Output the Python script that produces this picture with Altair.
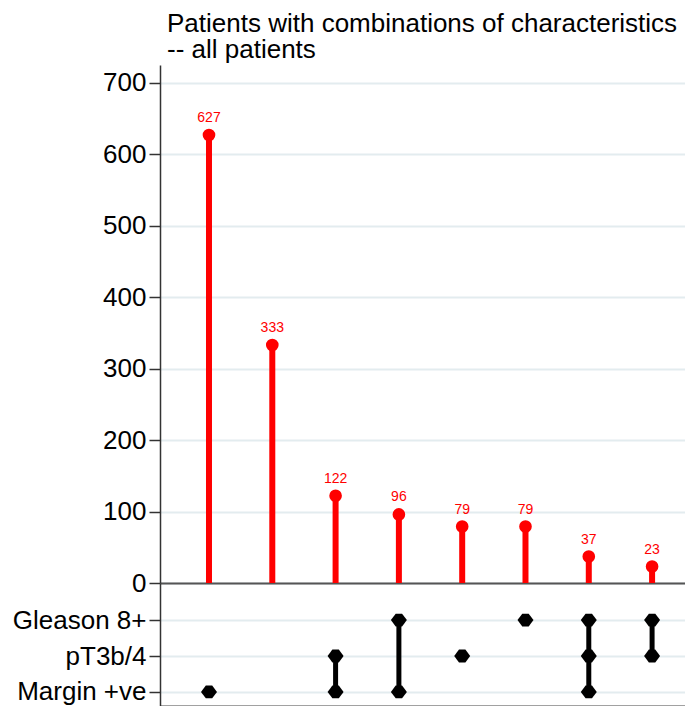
import altair as alt
import pandas as pd

# ---- data ----
counts = [627, 333, 122, 96, 79, 79, 37, 23]
characteristics = ["Margin +ve", "pT3b/4", "Gleason 8+"]          # row 1, 2, 3 (bottom -> top)
membership = [
    ["Margin +ve"],
    [],
    ["pT3b/4", "Margin +ve"],
    ["Gleason 8+", "Margin +ve"],
    ["pT3b/4"],
    ["Gleason 8+"],
    ["Gleason 8+", "pT3b/4", "Margin +ve"],
    ["Gleason 8+", "pT3b/4"],
]
title_lines = ["Patients with combinations of characteristics", "-- all patients"]

# ---- tables ----
idx = list(range(1, len(counts) + 1))
bars = pd.DataFrame({"idx": idx, "count": counts})

row_of = {c: i + 1 for i, c in enumerate(characteristics)}
dots = pd.DataFrame(
    [{"idx": i, "row": row_of[m]} for i, ms in zip(idx, membership) for m in ms]
)
spans = pd.DataFrame(
    [
        {"idx": i, "lo": min(row_of[m] for m in ms), "hi": max(row_of[m] for m in ms)}
        for i, ms in zip(idx, membership)
        if len(ms) > 1
    ]
)

FONT = "Liberation Sans"
W = 525
XDOM = [0.226, 8.520]
RED = "#ff0000"
GRID = "#e3ecef"
AX = "#333333"
LFS = 26

xscale = alt.Scale(domain=XDOM, nice=False, zero=False)
x_top_axis = alt.Axis(labels=False, ticks=False, grid=False, domain=True,
                      domainColor="#555555", domainWidth=2, title=None,
                      minExtent=0, maxExtent=0, offset=0)

ytop = alt.Y(
    "count:Q",
    scale=alt.Scale(domain=[0, 725], nice=False),
    axis=alt.Axis(values=[0, 100, 200, 300, 400, 500, 600, 700], title=None,
                  labelFontSize=LFS, labelFont=FONT, labelColor="black",
                  tickSize=11, tickColor=AX, tickWidth=1.5, labelPadding=3,
                  domainColor=AX, domainWidth=1.5,
                  grid=True, gridColor=GRID, gridWidth=2),
)

base_top = alt.Chart(bars).encode(x=alt.X("idx:Q", scale=xscale, axis=x_top_axis))
stems = base_top.mark_rule(color=RED, strokeWidth=6).encode(y=ytop, y2=alt.datum(0))
heads = base_top.mark_point(shape="circle", filled=True, color=RED, size=160, opacity=1).encode(y=ytop)
labels = base_top.mark_text(color=RED, fontSize=14, font=FONT, dy=-17, baseline="middle").encode(
    y=ytop, text="count:Q"
)

top = alt.layer(stems, heads, labels).properties(
    width=W,
    height=518,
    title=alt.TitleParams(text=title_lines, anchor="start", frame="group", fontSize=26,
                          font=FONT, fontWeight="normal", color="black", offset=2,
                          dx=7, lineHeight=26),
)

label_expr = " : ".join(
    f"datum.value == {row_of[c]} ? '{c}'" for c in characteristics
) + " : ''"

yscale_b = alt.Scale(domain=[0.61, 4.03], nice=False, zero=False)
yaxis_b = alt.Axis(values=[1, 2, 3], labelExpr=label_expr, title=None,
                   labelFontSize=LFS, labelFont=FONT, labelColor="black",
                   tickSize=11, tickColor=AX, tickWidth=1.5, labelPadding=3,
                   domainColor=AX, domainWidth=1.5,
                   grid=True, gridColor=GRID, gridWidth=2)
x_bot_axis = alt.Axis(labels=False, ticks=False, grid=False, domain=True,
                      domainColor="#444444", domainWidth=2, title=None,
                      minExtent=0, maxExtent=0)

links = alt.Chart(spans).mark_rule(color="black", strokeWidth=5).encode(
    x=alt.X("idx:Q", scale=xscale, axis=x_bot_axis),
    y=alt.Y("lo:Q", scale=yscale_b, axis=yaxis_b),
    y2="hi:Q",
)
marks = alt.Chart(dots).mark_point(
    shape="M-1,0L-0.4,-0.8L0.4,-0.8L1,0L0.4,0.8L-0.4,0.8Z",
    filled=True, color="black", size=256, opacity=1,
).encode(
    x=alt.X("idx:Q", scale=xscale, axis=x_bot_axis),
    y=alt.Y("row:Q", scale=yscale_b, axis=yaxis_b),
)
bottom = alt.layer(links, marks).properties(width=W, height=123)

chart = (
    alt.vconcat(top, bottom, spacing=0, bounds="flush")
    .resolve_scale(y="independent")
    .properties(padding={"left": 4, "top": 3, "right": 0, "bottom": 0},
                background="white")
    .configure_view(strokeWidth=0, stroke="transparent")
)

chart.save("out.html", embed_options={"renderer": "svg", "actions": False})
